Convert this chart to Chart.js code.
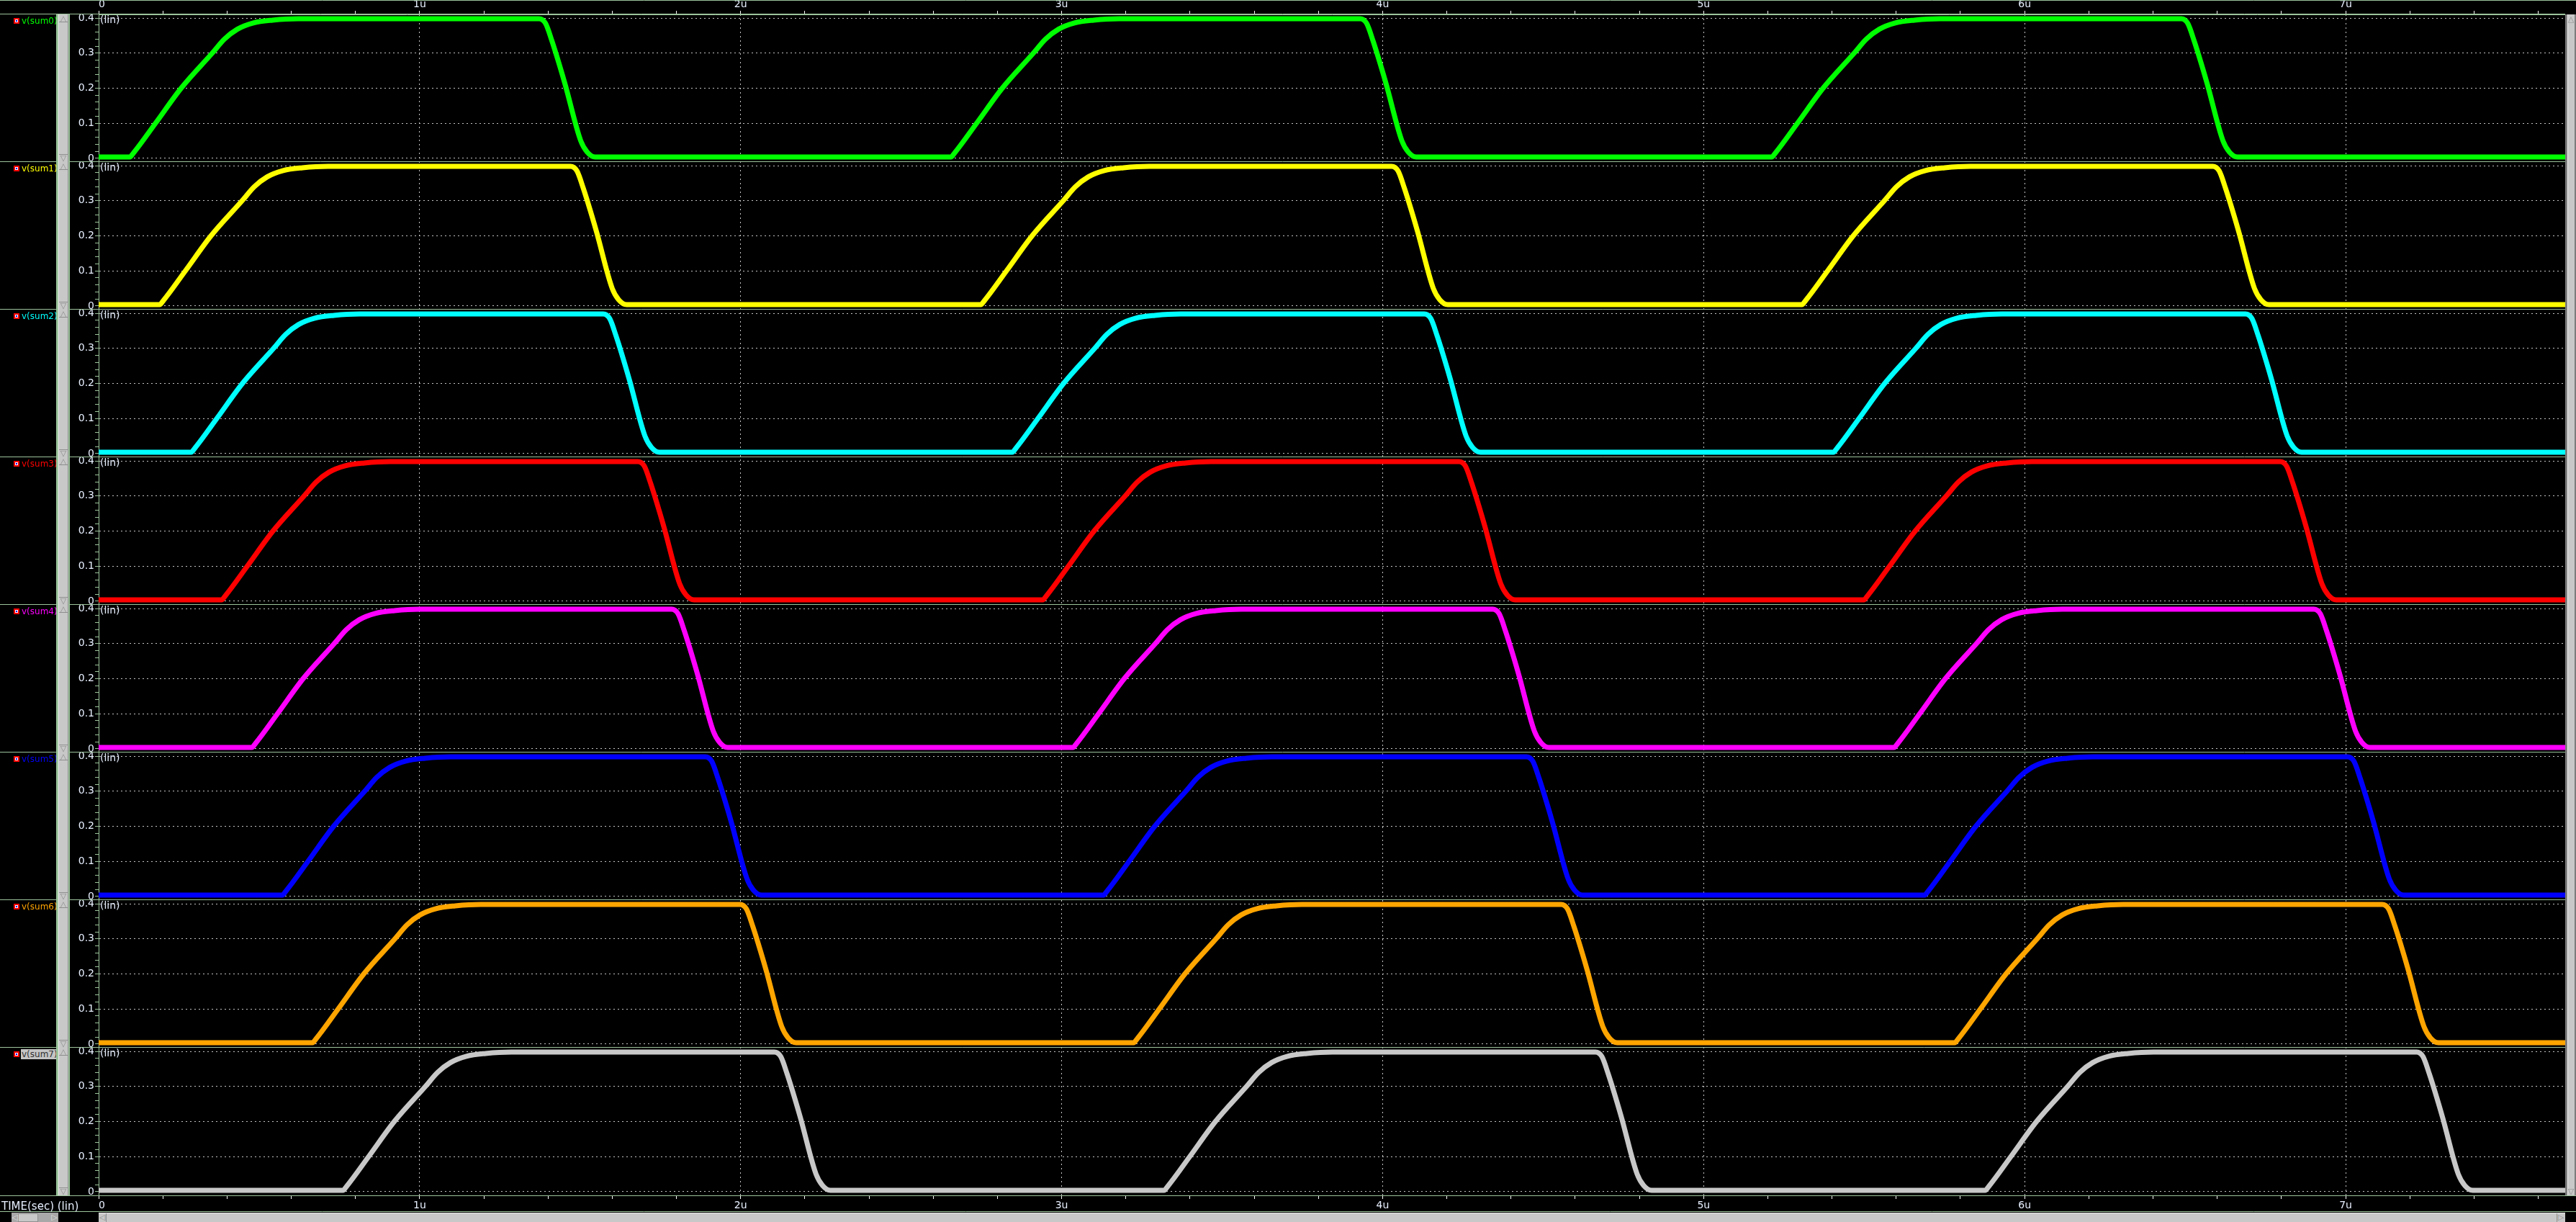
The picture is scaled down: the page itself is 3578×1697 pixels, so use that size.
<!DOCTYPE html>
<html><head><meta charset="utf-8">
<script src="https://cdn.jsdelivr.net/npm/chart.js@4.4.1/dist/chart.umd.min.js"></script>
<style>
html,body{margin:0;padding:0;background:#000;overflow:hidden;}
#wrap{position:relative;width:3578px;height:1697px;background:#000;overflow:hidden;}
#c{position:absolute;left:0;top:0;width:3578px;height:1697px;}
.abs{position:absolute;box-sizing:border-box;}
.lab{position:absolute;font-family:"DejaVu Sans";font-size:12px;line-height:14px;white-space:nowrap;}
.arr{position:absolute;font-family:"DejaVu Sans";font-size:11px;line-height:11px;color:#8c8c8c;text-align:center;}
</style></head><body><div id="wrap"><canvas id="c" width="3578" height="1697"></canvas></div>
<script>
// ---------- data (time in µs, value in V) ----------
const seriesNames = ['v(sum0)','v(sum1)','v(sum2)','v(sum3)','v(sum4)','v(sum5)','v(sum6)','v(sum7)'];
const seriesColors = ['#00ff00','#ffff00','#00ffff','#ff0000','#ff00ff','#0000ff','#ffa500','#c8c8c8'];
const yTickLabels = ['0','0.1','0.2','0.3','0.4'];
const xTickLabels = ['0','1u','2u','3u','4u','5u','6u','7u'];
const xMin = 0, xMax = 7.684;
const yMin = -0.0103, yMax = 0.4103;

const sum0 = [[0,.004],[.097,.004],[.109,.016],[.177,.1],[.257,.2],[.354,.3],[.392,.34],[.432,.368],[.482,.386],[.542,.394],[.622,.398],
[1.372,.398],[1.392,.385],[1.412,.335],[1.452,.215],[1.502,.05],[1.522,.018],[1.547,.004],
[2.655,.004],[2.667,.016],[2.735,.1],[2.815,.2],[2.912,.3],[2.950,.34],[2.990,.368],[3.040,.386],[3.100,.394],[3.180,.398],
[3.930,.398],[3.950,.385],[3.970,.335],[4.010,.215],[4.060,.05],[4.080,.018],[4.105,.004],
[5.212,.004],[5.224,.016],[5.292,.1],[5.372,.2],[5.469,.3],[5.507,.34],[5.547,.368],[5.597,.386],[5.657,.394],[5.737,.398],
[6.488,.398],[6.508,.385],[6.528,.335],[6.568,.215],[6.618,.05],[6.638,.018],[6.663,.004],
[7.684,.004]];
const sum1 = [[0,.004],[.190,.004],[.202,.016],[.270,.1],[.350,.2],[.447,.3],[.485,.34],[.525,.368],[.575,.386],[.635,.394],[.715,.398],
[1.470,.398],[1.490,.385],[1.510,.335],[1.550,.215],[1.600,.05],[1.620,.018],[1.645,.004],
[2.748,.004],[2.760,.016],[2.828,.1],[2.908,.2],[3.005,.3],[3.043,.34],[3.083,.368],[3.133,.386],[3.193,.394],[3.273,.398],
[4.028,.398],[4.048,.385],[4.068,.335],[4.108,.215],[4.158,.05],[4.178,.018],[4.203,.004],
[5.306,.004],[5.318,.016],[5.386,.1],[5.466,.2],[5.563,.3],[5.601,.34],[5.641,.368],[5.691,.386],[5.751,.394],[5.831,.398],
[6.586,.398],[6.606,.385],[6.626,.335],[6.666,.215],[6.716,.05],[6.736,.018],[6.761,.004],
[7.684,.004]];
const sum2 = [[0,.004],[.288,.004],[.300,.016],[.368,.1],[.448,.2],[.545,.3],[.583,.34],[.623,.368],[.673,.386],[.733,.394],[.813,.398],
[1.572,.398],[1.592,.385],[1.612,.335],[1.652,.215],[1.702,.05],[1.722,.018],[1.747,.004],
[2.846,.004],[2.858,.016],[2.926,.1],[3.006,.2],[3.103,.3],[3.141,.34],[3.181,.368],[3.231,.386],[3.291,.394],[3.371,.398],
[4.130,.398],[4.150,.385],[4.170,.335],[4.210,.215],[4.260,.05],[4.280,.018],[4.305,.004],
[5.404,.004],[5.416,.016],[5.484,.1],[5.564,.2],[5.661,.3],[5.699,.34],[5.739,.368],[5.789,.386],[5.849,.394],[5.929,.398],
[6.688,.398],[6.708,.385],[6.728,.335],[6.768,.215],[6.818,.05],[6.838,.018],[6.863,.004],
[7.684,.004]];
const sum3 = [[0,.004],[.383,.004],[.395,.016],[.463,.1],[.543,.2],[.640,.3],[.678,.34],[.718,.368],[.768,.386],[.828,.394],[.908,.398],
[1.680,.398],[1.700,.385],[1.720,.335],[1.760,.215],[1.810,.05],[1.830,.018],[1.855,.004],
[2.941,.004],[2.953,.016],[3.021,.1],[3.101,.2],[3.198,.3],[3.236,.34],[3.276,.368],[3.326,.386],[3.386,.394],[3.466,.398],
[4.238,.398],[4.258,.385],[4.278,.335],[4.318,.215],[4.368,.05],[4.388,.018],[4.413,.004],
[5.499,.004],[5.511,.016],[5.579,.1],[5.659,.2],[5.756,.3],[5.794,.34],[5.834,.368],[5.884,.386],[5.944,.394],[6.024,.398],
[6.796,.398],[6.816,.385],[6.836,.335],[6.876,.215],[6.926,.05],[6.946,.018],[6.971,.004],
[7.684,.004]];
const sum4 = [[0,.004],[.477,.004],[.489,.016],[.557,.1],[.637,.2],[.734,.3],[.772,.34],[.812,.368],[.862,.386],[.922,.394],[1.002,.398],
[1.785,.398],[1.805,.385],[1.825,.335],[1.865,.215],[1.915,.05],[1.935,.018],[1.960,.004],
[3.035,.004],[3.047,.016],[3.115,.1],[3.195,.2],[3.292,.3],[3.330,.34],[3.370,.368],[3.420,.386],[3.480,.394],[3.560,.398],
[4.343,.398],[4.363,.385],[4.383,.335],[4.423,.215],[4.473,.05],[4.493,.018],[4.518,.004],
[5.593,.004],[5.605,.016],[5.673,.1],[5.753,.2],[5.850,.3],[5.888,.34],[5.928,.368],[5.978,.386],[6.038,.394],[6.118,.398],
[6.901,.398],[6.921,.385],[6.941,.335],[6.981,.215],[7.031,.05],[7.051,.018],[7.076,.004],
[7.684,.004]];
const sum5 = [[0,.004],[.572,.004],[.584,.016],[.652,.1],[.732,.2],[.829,.3],[.867,.34],[.907,.368],[.957,.386],[1.017,.394],[1.097,.398],
[1.890,.398],[1.910,.385],[1.930,.335],[1.970,.215],[2.020,.05],[2.040,.018],[2.065,.004],
[3.130,.004],[3.142,.016],[3.210,.1],[3.290,.2],[3.387,.3],[3.425,.34],[3.465,.368],[3.515,.386],[3.575,.394],[3.655,.398],
[4.448,.398],[4.468,.385],[4.488,.335],[4.528,.215],[4.578,.05],[4.598,.018],[4.623,.004],
[5.688,.004],[5.700,.016],[5.768,.1],[5.848,.2],[5.945,.3],[5.983,.34],[6.023,.368],[6.073,.386],[6.133,.394],[6.213,.398],
[7.006,.398],[7.026,.385],[7.046,.335],[7.086,.215],[7.136,.05],[7.156,.018],[7.181,.004],
[7.684,.004]];
const sum6 = [[0,.004],[.666,.004],[.678,.016],[.746,.1],[.826,.2],[.923,.3],[.961,.34],[1.001,.368],[1.051,.386],[1.111,.394],[1.191,.398],
[1.998,.398],[2.018,.385],[2.038,.335],[2.078,.215],[2.128,.05],[2.148,.018],[2.173,.004],
[3.224,.004],[3.236,.016],[3.304,.1],[3.384,.2],[3.481,.3],[3.519,.34],[3.559,.368],[3.609,.386],[3.669,.394],[3.749,.398],
[4.556,.398],[4.576,.385],[4.596,.335],[4.636,.215],[4.686,.05],[4.706,.018],[4.731,.004],
[5.782,.004],[5.794,.016],[5.862,.1],[5.942,.2],[6.039,.3],[6.077,.34],[6.117,.368],[6.167,.386],[6.227,.394],[6.307,.398],
[7.114,.398],[7.134,.385],[7.154,.335],[7.194,.215],[7.244,.05],[7.264,.018],[7.289,.004],
[7.684,.004]];
const sum7 = [[0,.004],[.761,.004],[.773,.016],[.841,.1],[.921,.2],[1.018,.3],[1.056,.34],[1.096,.368],[1.146,.386],[1.206,.394],[1.286,.398],
[2.105,.398],[2.125,.385],[2.145,.335],[2.185,.215],[2.235,.05],[2.255,.018],[2.280,.004],
[3.319,.004],[3.331,.016],[3.399,.1],[3.479,.2],[3.576,.3],[3.614,.34],[3.654,.368],[3.704,.386],[3.764,.394],[3.844,.398],
[4.663,.398],[4.683,.385],[4.703,.335],[4.743,.215],[4.793,.05],[4.813,.018],[4.838,.004],
[5.877,.004],[5.889,.016],[5.957,.1],[6.037,.2],[6.134,.3],[6.172,.34],[6.212,.368],[6.262,.386],[6.322,.394],[6.402,.398],
[7.221,.398],[7.241,.385],[7.261,.335],[7.301,.215],[7.351,.05],[7.371,.018],[7.396,.004],
[7.684,.004]];
const allSeries = [sum0,sum1,sum2,sum3,sum4,sum5,sum6,sum7];

// ---------- styles ----------
const GREEN = '#9cc49c';
const GRID = '#c4c4c4';
const TICK = '#e8f0ff';
const FONT = 'DejaVu Sans';

function isMajorY(v){ return Math.abs(v*10 - Math.round(v*10)) < 1e-6; }
function isMajorX(v){ return Math.abs(v - Math.round(v)) < 1e-6; }
function yLabel(v){ return isMajorY(v) ? yTickLabels[Math.round(v*10)] : ''; }
function xLabel(v){ return isMajorX(v) ? (xTickLabels[Math.round(v)] || '') : ''; }

const scales = {
  x: {
    type:'linear', position:'bottom', min:xMin, max:xMax,
    ticks:{stepSize:0.2, autoSkip:false, includeBounds:false, maxRotation:0, minRotation:0,
      callback:xLabel, color:TICK, font:{family:FONT,size:14}, padding:1, align:'inner'},
    grid:{color:c => (c.tick && isMajorX(c.tick.value) && c.tick.value>0.5) ? GRID : 'transparent',
      lineWidth:1, tickColor:'#ffffff', tickWidth:1, tickLength:5},
    border:{color:GREEN, width:1, dash:[2,4]},
    afterFit: s => { s.height = 37; }
  },
  xt: {
    type:'linear', position:'top', min:xMin, max:xMax,
    ticks:{stepSize:0.2, autoSkip:false, includeBounds:false, maxRotation:0, minRotation:0,
      callback:xLabel, color:TICK, font:{family:FONT,size:14}, padding:0, align:'inner'},
    grid:{drawOnChartArea:false, color:'transparent', tickColor:'#ffffff', tickWidth:1, tickLength:5},
    border:{color:GREEN, width:1},
    afterFit: s => { s.height = 20; }
  }
};
for (let i=0;i<8;i++){
  scales['y'+i] = {
    type:'linear', position:'left', stack:'panels', stackWeight:1, weight:8-i,
    min:yMin, max:yMax,
    ticks:{stepSize:0.02, autoSkip:false, includeBounds:false, callback:yLabel,
      color:TICK, font:{family:FONT,size:14}, padding:1},
    grid:{color:c => (c.tick && isMajorY(c.tick.value)) ? GRID : 'transparent',
      lineWidth:1, tickColor:GREEN, tickWidth:1, tickLength:5},
    border:{color:GREEN, width:1, dash:[2,4]},
    afterFit: s => { s.width = 137; }
  };
}

const datasets = allSeries.map((s,i)=>({
  label: seriesNames[i],
  data: s.map(p=>({x:p[0], y:p[1]})),
  xAxisID:'x', yAxisID:'y'+i,
  borderColor: seriesColors[i], backgroundColor: seriesColors[i],
  borderWidth:7, pointRadius:0, cubicInterpolationMode:'monotone', fill:false,
  clip:{left:4,right:0,top:0,bottom:4}
}));

const deco = {
  id:'deco',
  afterDraw(chart){
    const ctx = chart.ctx, ca = chart.chartArea;
    ctx.save();
    ctx.strokeStyle = GREEN; ctx.lineWidth = 1;
    const hl = (y,x0,x1) => { ctx.beginPath(); ctx.moveTo(x0,y); ctx.lineTo(x1,y); ctx.stroke(); };
    hl(0.5, 0, chart.width);
    hl(Math.round(ca.top)-0.5, 0, ca.right);
    for (let i=0;i<8;i++){
      const s = chart.scales['y'+i];
      if (Math.round(s.top) > Math.round(ca.top)+2) hl(Math.round(s.top)-0.5, 0, ca.right);
    }
    hl(Math.round(ca.bottom)+0.5, 0, chart.width);
    hl(Math.round(ca.bottom)+22.5, 0, chart.width);
    ctx.fillStyle = TICK; ctx.font = '14px "DejaVu Sans"'; ctx.textBaseline = 'middle'; ctx.textAlign='left';
    for (let i=0;i<8;i++){
      const s = chart.scales['y'+i];
      ctx.fillText('(lin)', ca.left+2, s.getPixelForValue(0.4)+3);
    }
    ctx.restore();
  }
};

Chart.defaults.font.family = FONT;
const chart = new Chart(document.getElementById('c'), {
  type:'line',
  data:{datasets},
  options:{
    responsive:false, animation:false, devicePixelRatio:1, maintainAspectRatio:false,
    layout:{padding:{left:0,right:15,top:0,bottom:0}},
    plugins:{legend:{display:false}, tooltip:{enabled:false}},
    scales
  },
  plugins:[deco]
});

// ---------- HTML overlays (labels, scrollbars) ----------
const wrap = document.getElementById('wrap');
function box(l,t,w,h,css){ const d=document.createElement('div'); d.className='abs';
  d.style.left=l+'px'; d.style.top=t+'px'; d.style.width=w+'px'; d.style.height=h+'px';
  Object.assign(d.style, css||{}); wrap.appendChild(d); return d; }
function text(l,t,str,css,cls){ const d=document.createElement('div'); d.className=cls||'lab';
  d.style.left=l+'px'; d.style.top=t+'px'; d.textContent=str; Object.assign(d.style, css||{}); wrap.appendChild(d); return d; }

const ca = chart.chartArea;
for (let i=0;i<8;i++){
  const s = chart.scales['y'+i];
  const top = Math.round(s.top), h = Math.round(s.bottom) - top;
  const ic = box(19, top+5, 8, 8, {background:'#ff0000'});
  const inner = document.createElement('div'); inner.className='abs';
  Object.assign(inner.style,{left:'2px',top:'2px',width:'4px',height:'4px',background:'#ffffff'}); ic.appendChild(inner);
  const dot = document.createElement('div'); dot.className='abs';
  Object.assign(dot.style,{left:'1px',top:'1px',width:'2px',height:'2px',background:'#0000ff'}); inner.appendChild(dot);
  if (i===7) text(29, top+2, seriesNames[i], {color:'#303030', background:'#c4c4c4', padding:'0 1px'});
  else text(30, top+2, seriesNames[i], {color:seriesColors[i]});
  box(78, top, 3, h, {background:GREEN});
  box(81, top, 14, h, {background:'#c8c8c8', borderLeft:'1px solid #e8e8e8', borderRight:'1px solid #909090'});
  box(82, top+10, 12, 1, {background:'#909090'});
  box(82, top+h-11, 12, 1, {background:'#909090'});
  text(81, top, '△', {width:'14px'}, 'arr');
  text(81, top+h-11, '▽', {width:'14px'}, 'arr');
  box(95, top, 2, h, {background:GREEN});
}
box(Math.round(ca.right), Math.round(ca.top), 15, Math.round(ca.bottom-ca.top), {background:'#7c7c7c'});
box(Math.round(ca.right)+3, Math.round(ca.top), 10, Math.round(ca.bottom-ca.top), {background:'#c8c8c8', borderLeft:'1px solid #f0f0f0'});
text(Math.round(ca.right)+3, Math.round(ca.top)+1, '△', {width:'10px'}, 'arr');
text(Math.round(ca.right)+3, Math.round(ca.bottom)-11, '▽', {width:'10px'}, 'arr');
text(2, Math.round(ca.bottom)+6, 'TIME(sec) (lin)', {color:TICK, fontSize:'15px', lineHeight:'18px'});
const sbT = Math.round(ca.bottom)+24;
box(16, sbT, 65, 1697-sbT, {background:'#a8a8a8'});
box(25, sbT+1, 28, 1697-sbT-1, {background:'#c8c8c8', border:'1px solid #909090'});
text(16, sbT+1, '◁', {width:'9px', color:'#e0e0e0'}, 'arr');
text(71, sbT+1, '▷', {width:'9px', color:'#e0e0e0'}, 'arr');
box(Math.round(ca.left), sbT, Math.round(ca.right-ca.left), 1697-sbT, {background:'#c8c8c8', borderTop:'1px solid #e8e8e8'});
text(Math.round(ca.left), sbT+1, '◁', {width:'10px'}, 'arr');
text(Math.round(ca.right)-11, sbT+1, '▷', {width:'10px'}, 'arr');
box(Math.round(ca.left)+10, sbT+1, 1, 1697-sbT-1, {background:'#909090'});
box(Math.round(ca.right)-12, sbT+1, 1, 1697-sbT-1, {background:'#909090'});
</script></body></html>
